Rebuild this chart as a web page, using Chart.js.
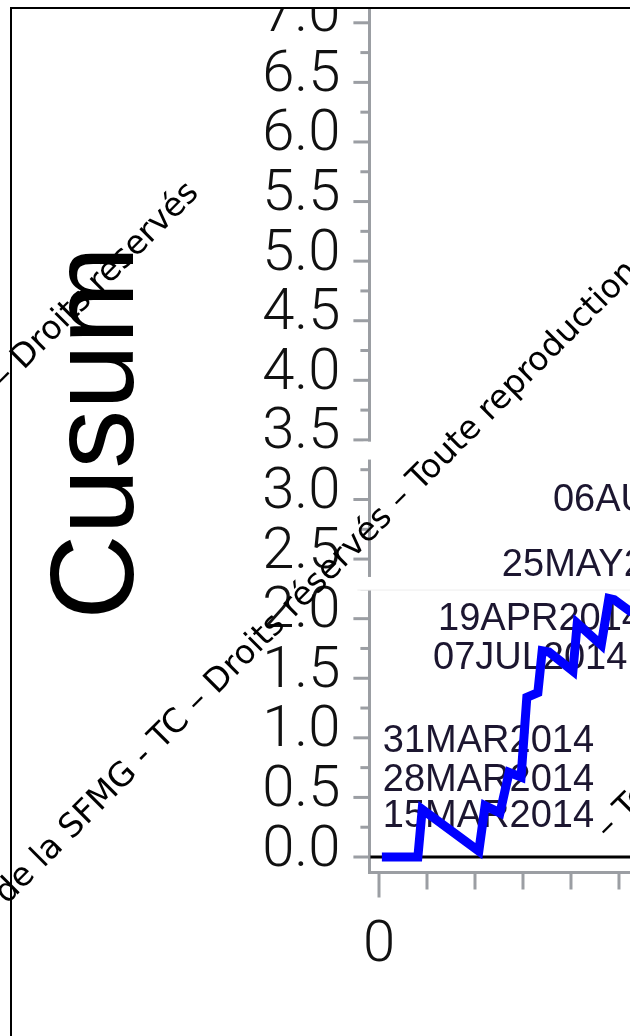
<!DOCTYPE html>
<html>
<head>
<meta charset="utf-8">
<script src="https://cdn.jsdelivr.net/npm/chart.js@4.4.1/dist/chart.umd.min.js"></script>
<style>
  html, body { margin: 0; padding: 0; background: #fff; overflow: hidden; width: 630px; height: 1036px; position: relative; }
  #cusum { position: absolute; left: 0; top: -60px; display: block; }
</style>
</head>
<body>
<canvas id="cusum" width="930" height="1096"></canvas>
<script>
// Vertices of the CUSUM curve: observation index and cumulative sum
const obsIndex    = [0.6, 8.1, 9.0, 20.8, 22.1, 25.2, 27.1, 29.6, 30.8, 33.1, 34.0, 35.4, 40.4, 41.3, 46.3, 47.9, 49.0, 52.7];
const cusumValues = [0,   0,   0.40, 0.05, 0.43, 0.37, 0.71, 0.67, 1.34, 1.38, 1.73, 1.72, 1.56, 1.96, 1.78, 2.17, 2.16, 2.05];

// Signal dates written beside the curve (left edge / baseline in data units)
const signalLabels = ["15MAR2014", "28MAR2014", "31MAR2014", "07JUL2014", "19APR2014", "25MAY2014", "06AUG2014"];
const signalX      = [0.8, 0.8, 0.8, 11.25, 12.3, 25.6, 36.25];
const signalY      = [0.252, 0.554, 0.881, 1.578, 1.905, 2.359, 2.904];

// Axis ranges and tick spacing
const yRange = [-0.13, 7.25];
const yMajorStep = 0.5;
const yMinorStep = 0.25;
const xRange = [-2, 114.8];
const xTickStep = 10;
const xLabelEvery = 100;
const referenceLevel = 0;

// Breaks in the vertical axis (value ranges)
const axisBreaks = [[3.335, 3.485, 'axis'], [2.24, 2.35, 'wide']];

// Watermark lines: text before / after an anchor point
const watermarkBefore = ["de la SFMG - TC – Droits réservés – ", "de la SFMG - TC – Droits réservés", ""];
const watermarkAfter  = ["Toute reproduction interdite", "", "– Toute reproduction interdite"];

const AXIS_GREY = '#9b9ea3';
const TICK_FONT = { family: 'Roboto', size: 58, weight: 300 };
const SHIFT = 60;                       // canvas sits 60px above the page top
const anchors = [[420, 492], [200, 194], [608, 840]];

const frame = {
  id: 'frame',
  beforeDraw(chart) {
    const ctx = chart.ctx;
    ctx.save();
    ctx.fillStyle = '#fff';
    ctx.fillRect(0, 0, chart.width, chart.height);
    ctx.beginPath();
    ctx.rect(12, 9 + SHIFT, 618, chart.height);
    ctx.clip();
  },
  beforeDatasetsDraw(chart) {
    const {ctx, chartArea, scales: {x, y}} = chart;
    ctx.save();
    ctx.strokeStyle = '#000';
    ctx.lineWidth = 3;
    const ry = y.getPixelForValue(referenceLevel);
    ctx.beginPath();
    ctx.moveTo(chartArea.left + 1, ry);
    ctx.lineTo(chartArea.right, ry);
    ctx.stroke();
    ctx.fillStyle = '#1c1630';
    ctx.font = '38px "Liberation Sans"';
    ctx.textAlign = 'left';
    ctx.textBaseline = 'alphabetic';
    signalLabels.forEach((t, i) => {
      ctx.fillText(t, x.getPixelForValue(signalX[i]), y.getPixelForValue(signalY[i]));
    });
    ctx.restore();
  },
  afterDraw(chart) {
    const {ctx, chartArea, scales: {x, y}} = chart;
    ctx.save();
    ctx.strokeStyle = AXIS_GREY;
    ctx.lineWidth = 3;
    for (let v = 0; v <= yRange[1] + 1e-9; v += yMinorStep) {
      const p = y.getPixelForValue(v);
      const major = Math.abs(v / yMajorStep - Math.round(v / yMajorStep)) < 1e-6;
      const len = major ? 16 : 9;
      ctx.beginPath();
      ctx.moveTo(chartArea.left - len, p);
      ctx.lineTo(chartArea.left, p);
      ctx.stroke();
    }
    for (let v = 0; v <= xRange[1]; v += xTickStep) {
      const p = x.getPixelForValue(v);
      const len = v % xLabelEvery === 0 ? 25 : 17;
      ctx.beginPath();
      ctx.moveTo(p, chartArea.bottom);
      ctx.lineTo(p, chartArea.bottom + len);
      ctx.stroke();
    }
    ctx.fillStyle = '#fff';
    axisBreaks.forEach(([lo, hi, kind]) => {
      const top = y.getPixelForValue(hi), bot = y.getPixelForValue(lo);
      if (kind === 'axis') {
        ctx.fillRect(chartArea.left - 6, top, 12, bot - top);
      } else {
        ctx.fillRect(chartArea.left - 14, top, chart.width, bot - top);
        ctx.strokeStyle = '#ededed';
        ctx.lineWidth = 1;
        ctx.beginPath();
        ctx.moveTo(chartArea.left - 12, bot);
        ctx.lineTo(chart.width, bot);
        ctx.stroke();
      }
    });
    ctx.restore();
    ctx.restore(); // end of clip

    // frame
    ctx.save();
    ctx.strokeStyle = '#000';
    ctx.lineWidth = 2;
    ctx.beginPath();
    ctx.moveTo(11, 7 + SHIFT); ctx.lineTo(11, chart.height);
    ctx.moveTo(10, 8 + SHIFT); ctx.lineTo(630, 8 + SHIFT);
    ctx.stroke();

    // watermark
    ctx.fillStyle = '#000';
    ctx.font = '33px "DejaVu Sans"';
    ctx.textBaseline = 'alphabetic';
    anchors.forEach(([ax, ay], i) => {
      ctx.save();
      ctx.translate(ax, ay + SHIFT);
      ctx.rotate(-Math.PI / 4);
      ctx.textAlign = 'right';
      ctx.fillText(watermarkBefore[i], 0, 0);
      ctx.textAlign = 'left';
      ctx.fillText(watermarkAfter[i], 0, 0);
      ctx.restore();
    });
    ctx.restore();
  }
};

new Chart(document.getElementById('cusum'), {
  type: 'line',
  data: {
    datasets: [{
      data: obsIndex.map((v, i) => ({ x: v, y: cusumValues[i] })),
      borderColor: '#0000ff',
      borderWidth: 9,
      pointRadius: 0,
      tension: 0,
      fill: false
    }]
  },
  options: {
    responsive: false,
    animation: false,
    layout: { padding: { top: 53, right: 0, bottom: 0, left: 0 } },
    plugins: { legend: { display: false }, tooltip: { enabled: false } },
    scales: {
      x: {
        type: 'linear', position: 'bottom', min: xRange[0], max: xRange[1],
        afterFit: s => { s.height = 163.5; s.paddingLeft = 0; s.paddingRight = 0; },
        border: { display: true, color: AXIS_GREY, width: 3 },
        grid: { drawOnChartArea: false, drawTicks: true, tickLength: 24, color: 'rgba(0,0,0,0)' },
        ticks: {
          stepSize: xTickStep, autoSkip: false, maxRotation: 0, includeBounds: false,
          font: TICK_FONT, color: '#111', padding: 15,
          callback: v => (v % xLabelEvery === 0 ? String(v) : '')
        }
      },
      y: {
        type: 'linear', position: 'left', min: yRange[0], max: yRange[1],
        afterFit: s => { s.width = 369.4; s.paddingTop = 0; s.paddingBottom = 0; },
        border: { display: true, color: AXIS_GREY, width: 3 },
        grid: { drawOnChartArea: false, drawTicks: true, tickLength: 15, color: 'rgba(0,0,0,0)' },
        ticks: {
          stepSize: yMajorStep, includeBounds: false, autoSkip: false,
          font: TICK_FONT, color: '#111', padding: 14, labelOffset: -6,
          callback: v => v.toFixed(1)
        },
        title: {
          display: true, text: 'Cusum', color: '#000',
          font: { family: 'Liberation Sans', size: 118 },
          padding: { top: 30, bottom: 0 }
        }
      }
    }
  },
  plugins: [frame]
});
</script>
</body>
</html>
